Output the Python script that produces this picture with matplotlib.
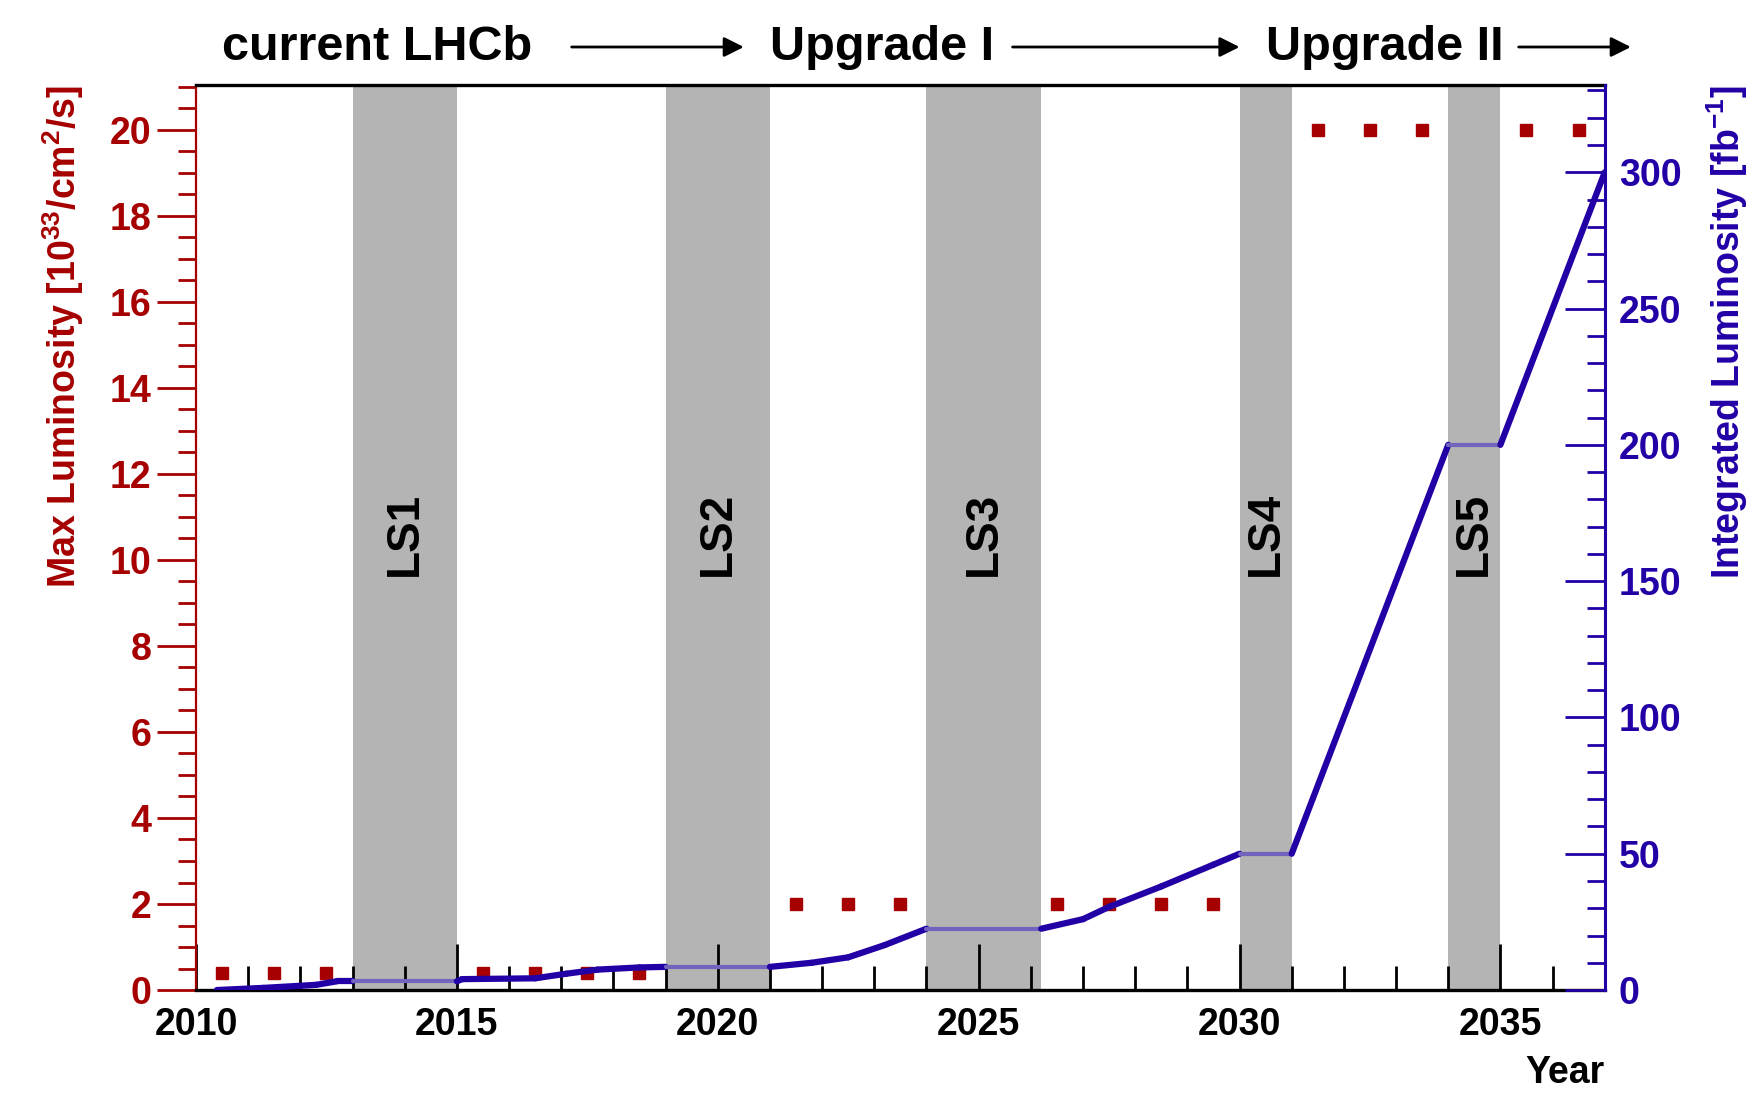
import matplotlib
matplotlib.use("Agg")
import matplotlib.pyplot as plt
from matplotlib.collections import LineCollection
from matplotlib.ticker import MultipleLocator
import numpy as np

# Colours (ROOT-like)
RED = "#a60000"
BLUE = "#2200a6"
LIGHT_BLUE = "#7264bc"
BAND = "#b4b4b4"

# Peak luminosity per year [10^33 /cm^2/s]
peak_years = [2010.5, 2011.5, 2012.5, 2015.5, 2016.5, 2017.5, 2018.5,
              2021.5, 2022.5, 2023.5, 2026.5, 2027.5, 2028.5, 2029.5,
              2031.5, 2032.5, 2033.5, 2035.5, 2036.5]
peak_lumi = [0.4, 0.4, 0.4, 0.4, 0.4, 0.4, 0.4,
             2, 2, 2, 2, 2, 2, 2,
             20, 20, 20, 20, 20]

# Integrated luminosity [fb^-1]
int_years = [2010.4, 2011.3, 2012.3, 2012.7, 2013.0, 2015.0, 2015.1, 2016.5,
             2017.1, 2017.7, 2018.5, 2019.0, 2021.0, 2021.8, 2022.5, 2023.2,
             2024.0, 2026.2, 2027.0, 2027.5, 2028.5, 2029.5, 2030.0, 2031.0,
             2034.0, 2035.0, 2037.0]
int_lumi = [0, 0.8, 1.9, 3.2, 3.2, 3.2, 4.0, 4.3,
            6.0, 7.5, 8.3, 8.5, 8.5, 10, 12, 16.5,
            22.5, 22.5, 26, 30.5, 38, 46, 50, 50,
            200, 200, 300]

# Long shutdowns
ls_names = ["LS1", "LS2", "LS3", "LS4", "LS5"]
ls_start = [2013, 2019, 2024, 2030, 2034]
ls_end = [2015, 2021, 2026.2, 2031, 2035]

# Phases on top
phase_names = ["current LHCb", "Upgrade I", "Upgrade II"]
phase_text_x = [2010.5, 2021.0, 2030.5]
arrow_from = [2017.2, 2025.65, 2035.35]
arrow_to = [2020.5, 2030.0, 2037.5]

plt.rcParams["font.family"] = ["Liberation Sans", "DejaVu Sans"]
plt.rcParams["font.weight"] = "bold"
plt.rcParams["mathtext.fontset"] = "custom"
plt.rcParams["mathtext.rm"] = "Liberation Sans:bold"
plt.rcParams["mathtext.bf"] = "Liberation Sans:bold"
plt.rcParams["mathtext.default"] = "rm"

fig = plt.figure(figsize=(17.5, 10.97), dpi=100)
ax = fig.add_axes([0.112, 0.0975, 0.805, 0.825])
ax2 = ax.twinx()

# Shutdown bands
for name, s, e in zip(ls_names, ls_start, ls_end):
    ax.axvspan(s, e, color=BAND, lw=0, zorder=0.5)
    ax.text((s + e) / 2, 10.6, name, rotation=90, ha="center", va="center",
            fontsize=33, fontweight="bold", color="black", zorder=1)

# Peak luminosity markers
ax.plot(peak_years, peak_lumi, ls="none", marker="s", ms=9, color=RED,
        mec=RED, zorder=2)

# Integrated luminosity: darker during running, lighter during shutdowns
pts = np.column_stack([int_years, int_lumi])
segs = np.stack([pts[:-1], pts[1:]], axis=1)
colours, widths = [], []
for (x0, _), (x1, _) in zip(pts[:-1], pts[1:]):
    in_ls = any(s <= x0 and x1 <= e for s, e in zip(ls_start, ls_end))
    colours.append(LIGHT_BLUE if in_ls else BLUE)
    widths.append(3.0 if in_ls else 4.5)
ax2.add_collection(LineCollection(segs, colors=colours, linewidths=widths,
                                  capstyle="round", joinstyle="round", zorder=3))

# Limits
ax.set_xlim(2010, 2037)
ax.set_ylim(0, 21.04)
ax2.set_ylim(0, 332)

# X axis
ax.xaxis.set_major_locator(MultipleLocator(5))
ax.xaxis.set_minor_locator(MultipleLocator(1))
ax.tick_params(axis="x", which="both", direction="in", top=False,
               colors="black", labelsize=27, width=2, pad=12)
ax.tick_params(axis="x", which="major", length=33)
ax.tick_params(axis="x", which="minor", length=17)
ax.set_xlabel("Year", loc="right", fontsize=27, fontweight="bold")
ax.xaxis.set_label_coords(1.0, -0.072)
ax.xaxis.label.set_verticalalignment("top")

# Left axis
ax.yaxis.set_major_locator(MultipleLocator(2))
ax.yaxis.set_minor_locator(MultipleLocator(0.5))
ax.tick_params(axis="y", which="both", direction="out", colors=RED,
               labelsize=27, width=2, pad=4)
ax.tick_params(axis="y", which="major", length=28)
ax.tick_params(axis="y", which="minor", length=13)
ax.set_ylabel(r"Max Luminosity [10$^{33}$/cm$^{2}$/s]", loc="top",
              color=RED, fontsize=27, fontweight="bold")
ax.yaxis.set_label_coords(-0.078, 1.0)

# Right axis
ax2.yaxis.set_major_locator(MultipleLocator(50))
ax2.yaxis.set_minor_locator(MultipleLocator(10))
ax2.tick_params(axis="y", which="both", direction="in", colors=BLUE,
                labelsize=27, width=2, pad=10)
ax2.tick_params(axis="y", which="major", length=29)
ax2.tick_params(axis="y", which="minor", length=13)
ax2.set_ylabel(r"Integrated Luminosity [fb$^{-1}$]", loc="top",
               color=BLUE, fontsize=27, fontweight="bold")
ax2.yaxis.set_label_coords(1.071, 1.0)

# Spines
ax.spines["left"].set_color(RED)
ax.spines["left"].set_linewidth(1.6)
ax.spines["right"].set_visible(False)
ax.spines["top"].set_linewidth(2.4)
ax.spines["bottom"].set_linewidth(2.4)
for side in ["left", "top", "bottom"]:
    ax2.spines[side].set_visible(False)
ax2.spines["right"].set_color(BLUE)
ax2.spines["right"].set_linewidth(2.2)

# Phases above the frame
trans = ax.get_xaxis_transform()
for name, tx in zip(phase_names, phase_text_x):
    ax.text(tx, 1.042, name, transform=trans, ha="left", va="center",
            fontsize=35, fontweight="bold", clip_on=False)
for x0, x1 in zip(arrow_from, arrow_to):
    ax.annotate("", xy=(x1, 1.042), xytext=(x0, 1.042), xycoords=trans,
                textcoords=trans, annotation_clip=False,
                arrowprops=dict(arrowstyle="-|>", lw=2, color="black",
                                mutation_scale=30, shrinkA=0, shrinkB=0))

fig.savefig("out.png", dpi=100)
